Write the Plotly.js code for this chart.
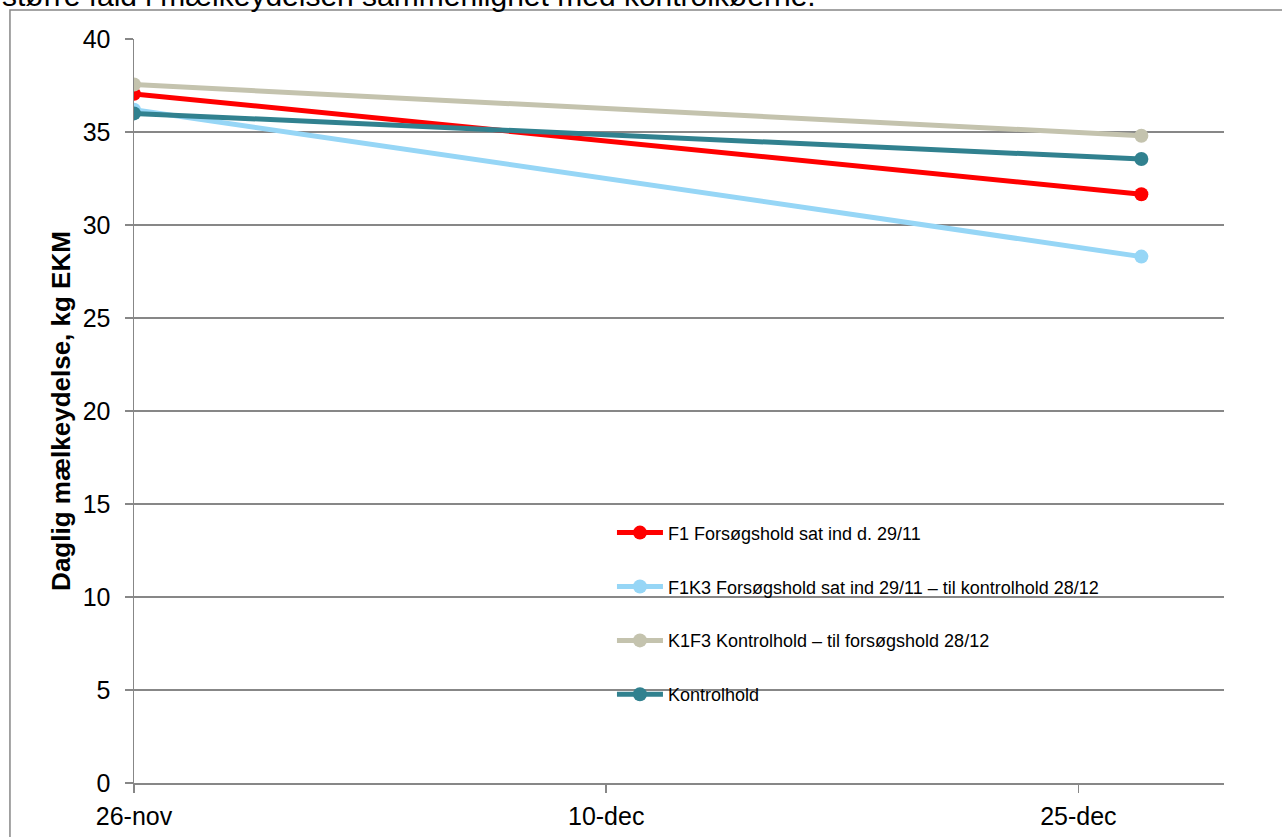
<!DOCTYPE html>
<html>
<head>
<meta charset="utf-8">
<script src="https://cdn.plot.ly/plotly-3.0.1.min.js"></script>
<style>html,body{margin:0;padding:0;background:#fff;}#chart{width:1282px;height:837px;}</style>
</head>
<body>
<div id="chart"></div>
<script>
const dates = ['2011-11-26', '2011-12-28'];
const seriesNames = [
  'F1 Forsøgshold sat ind d. 29/11',
  'F1K3 Forsøgshold sat ind 29/11 – til kontrolhold 28/12',
  'K1F3 Kontrolhold – til forsøgshold 28/12',
  'Kontrolhold'
];
const f1 = [37.05, 31.65];
const f1k3 = [36.2, 28.3];
const k1f3 = [37.55, 34.8];
const kontrol = [36.0, 33.55];
const tickDates = ['2011-11-26', '2011-12-11', '2011-12-26'];
const tickLabels = ['26-nov', '10-dec', '25-dec'];
const yTicks = [0, 5, 10, 15, 20, 25, 30, 35, 40];
const caption = 'større fald i mælkeydelsen sammenlignet med kontrolkøerne.';

const colors = ['#FF0000', '#96D6F6', '#C4C3AE', '#31818F'];
const values = [f1, f1k3, k1f3, kontrol];

const traces = values.map((v, i) => ({
  type: 'scatter',
  mode: 'lines+markers',
  x: dates,
  y: v,
  name: seriesNames[i],
  legendgroup: 'g' + i,
  line: {color: colors[i], width: 5},
  marker: {color: colors[i], size: 14}
}));

const grid = '#878787';
const layout = {
  width: 1282,
  height: 837,
  margin: {l: 134, r: 58, t: 39, b: 54},
  paper_bgcolor: '#ffffff',
  plot_bgcolor: '#ffffff',
  font: {family: 'Liberation Sans, Arial, sans-serif', color: '#000000'},
  showlegend: true,
  legend: {
    x: 0.4385, y: 0.361, xanchor: 'left', yanchor: 'top',
    font: {size: 18, color: '#000000'},
    bgcolor: 'rgba(0,0,0,0)',
    tracegroupgap: 27.5,
    itemwidth: 46
  },
  xaxis: {
    type: 'date',
    range: ['2011-11-26', '2011-12-30 15:00'],
    tickvals: tickDates,
    ticktext: tickLabels,
    ticks: 'outside', ticklen: 8, tickwidth: 1.5, tickcolor: grid,
    showline: true, linecolor: grid, linewidth: 1.5,
    showgrid: false, zeroline: false,
    tickfont: {size: 25, color: '#000'},
    ticklabelstandoff: 2
  },
  yaxis: {
    range: [0, 40],
    tickvals: yTicks,
    ticks: 'outside', ticklen: 8, tickwidth: 1.5, tickcolor: grid,
    showline: true, linecolor: grid, linewidth: 1.5,
    showgrid: true, gridcolor: grid, gridwidth: 1.5,
    zeroline: false,
    tickfont: {size: 25, color: '#000'},
    ticklabelstandoff: 9,
    title: {text: '<b>Daglig mælkeydelse, kg EKM</b>', font: {size: 26, color: '#000'}, standoff: 4}
  },
  shapes: [{
    type: 'rect', xref: 'paper', yref: 'paper',
    x0: -0.1138, x1: 1.2, y0: -0.3, y1: 1.039,
    line: {color: '#878787', width: 1.5}, fillcolor: 'rgba(0,0,0,0)', layer: 'below'
  }],
  annotations: [{
    text: caption, xref: 'paper', yref: 'paper',
    x: -0.123, y: 1.034, xanchor: 'left', yanchor: 'bottom',
    showarrow: false, font: {size: 30, color: '#000'}
  }]
};

Plotly.newPlot('chart', traces, layout, {displayModeBar: false, staticPlot: true});
</script>
</body>
</html>
